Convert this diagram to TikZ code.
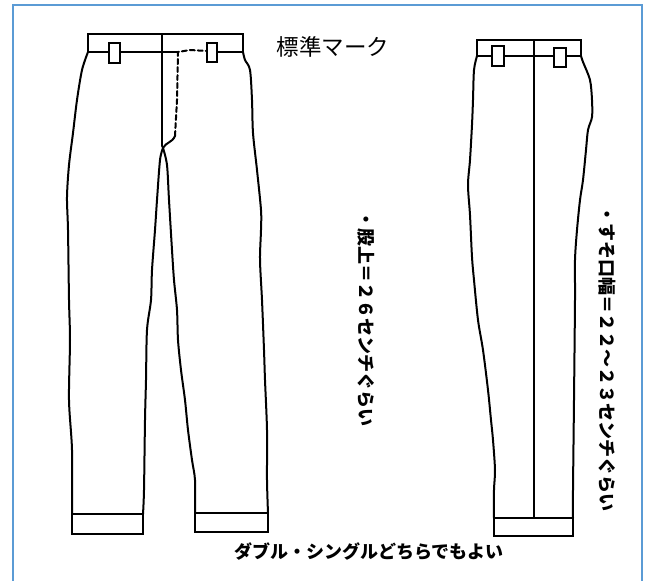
\documentclass[tikz,border=0pt]{standalone}
\usepackage{fontspec}
\newfontfamily\jp{Noto Sans CJK JP}
\definecolor{frameblue}{HTML}{5B9BD5}
\begin{document}
\begin{tikzpicture}[x=1pt,y=-1pt,line width=1.7pt,
    outline/.style={line width=2pt,line join=round,line cap=round},
    loopbox/.style={line width=1.7pt,fill=white},
    note/.style={font=\jp\bfseries\fontsize{18}{20}\selectfont,inner sep=0pt}]
    \useasboundingbox (0,0) rectangle (649,581);
    \draw[frameblue,line width=2.8pt] (13,5) rectangle (642,600);
    \coordinate (C0) at (163,148);
    \draw[outline] plot [smooth] coordinates {(88,52) (82,70) (77,100) (73,133) (69,165) (67,197) (68,230) (69,300) (70,340) (69,400) (72,450) (72,514)};
    \draw[outline] plot [smooth] coordinates {(143,514) (144,490) (145,420) (146,380) (147,330) (151,300) (152,270) (155,230) (157,200) (160,160) (C0)};
    \draw[outline] plot [smooth] coordinates {(C0) (167,165) (169,200) (172,250) (174,280) (177,310) (178,340) (181,370) (185,400) (188,430) (192,460) (195,480) (195,513)};
    \draw[outline] plot [smooth] coordinates {(268,513) (267,480) (267,430) (265,380) (264,350) (262,300) (260,260) (261,230) (261,210) (257,170) (253,133) (252,100) (250,70) (245,60) (243,52)};
    \draw (72,514) rectangle (143,534);
    \draw (195,513) rectangle (268,532);
    \draw (88,52) -- (88,34) -- (243,34) -- (243,52);
    \draw (88,52) -- (178,52);
    \draw (207,52) -- (243,52);
    \draw (162,34) -- (162,146) -- (C0);
    \draw[outline] (C0) .. controls (166,142) and (172,143) .. (175,136);
    \draw[outline,dash pattern=on 5pt off 3pt] (175,136) -- (177,100) -- (178,52) -- (190,50) -- (207,51);
    \draw[loopbox] (109,43) rectangle (120,63);
    \draw[loopbox] (207,43) rectangle (217,62);
    \draw[outline] plot [smooth] coordinates {(477,56) (474,70) (473,100) (472,125) (470,160) (468,185) (470,215) (472,257) (474,280) (478,320) (483,350) (488,390) (491,420) (493,440) (495,470) (494,490) (494,518)};
    \draw[outline] plot [smooth] coordinates {(581,56) (583,62) (590,80) (592,100) (592,117) (588,130) (586,150) (583,180) (580,200) (577,230) (575,260) (575,300) (574,400) (573,490) (573,518)};
    \draw (477,40) rectangle (581,56);
    \draw (534,40) -- (534,518);
    \draw (494,518) rectangle (573,536);
    \draw[loopbox] (492,46) rectangle (504,66);
    \draw[loopbox] (554,48) rectangle (566,67);
    \node[font=\jp\fontsize{22.5}{24}\selectfont,inner sep=0pt] (mark) at (333,47) {標準マーク};
    \node[note,rotate=-90,anchor=west] (rise) at (366,210) {・股上＝２６センチぐらい};
    \node[note,rotate=-90,anchor=west] (hem) at (607,205) {・すそ口幅＝２２～２３センチぐらい};
    \node[note] (cuff) at (369,552) {ダブル・シングルどちらでもよい};
\end{tikzpicture}
\end{document}
